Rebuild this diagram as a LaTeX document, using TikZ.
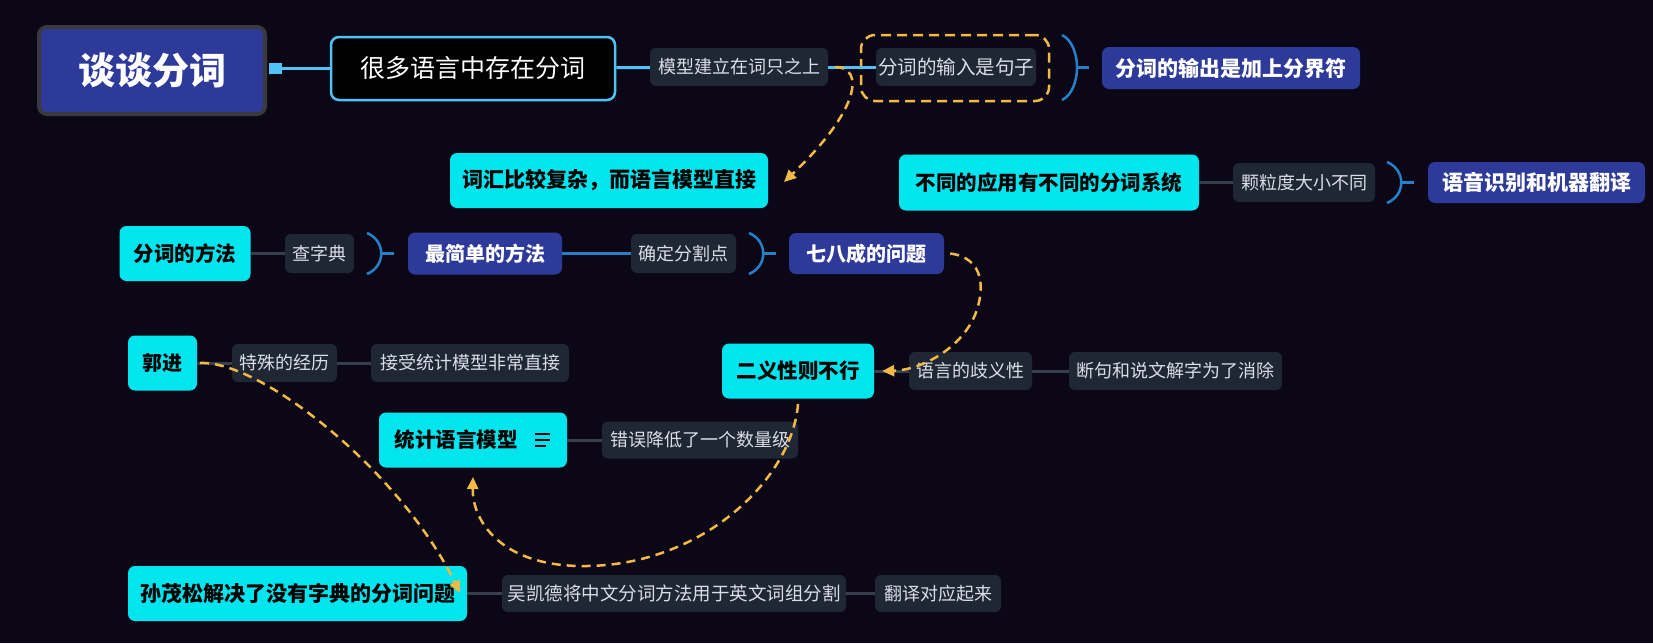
\documentclass[tikz,border=0pt]{standalone}
\usepackage{fontspec}
\setmainfont{Noto Sans CJK SC}
\usetikzlibrary{arrows.meta}
\definecolor{bg}{RGB}{12,7,22}
\definecolor{cyanbox}{RGB}{0,229,238}
\definecolor{bluebox}{RGB}{46,58,154}
\definecolor{slate}{RGB}{31,38,52}
\definecolor{labeltext}{RGB}{218,222,230}
\definecolor{orangeline}{RGB}{242,185,70}
\definecolor{skyline}{RGB}{79,195,247}
\definecolor{braceblue}{RGB}{38,128,200}
\definecolor{grayline}{RGB}{55,62,76}
\definecolor{rootborder}{RGB}{58,58,62}
\tikzset{
  box/.style={rectangle, rounded corners=7pt, inner sep=0pt, align=center},
  cyannode/.style={box, fill=cyanbox, text=black, font=\fontsize{20.5}{24}\selectfont\bfseries},
  bluenode/.style={box, fill=bluebox, text=white, font=\fontsize{20}{24}\selectfont\bfseries},
  labelnode/.style={box, rounded corners=6pt, fill=slate, text=labeltext, font=\fontsize{18}{21}\selectfont},
  graylink/.style={draw=grayline, line width=3pt},
  bluelink/.style={draw=braceblue, line width=3pt},
  skylink/.style={draw=skyline, line width=3pt},
  bracket/.style={draw=braceblue, line width=2.5pt},
  relarrow/.style={draw=orangeline, line width=2.5pt, dash pattern=on 9pt off 6pt, -{Triangle[length=12pt,width=11pt]}},
  wh/.style 2 args={minimum width=#1pt, minimum height=#2pt},
}
\begin{document}
\begin{tikzpicture}[x=1pt,y=-1pt]
\fill[bg] (0,0) rectangle (1653,643);
\useasboundingbox (0,0) rectangle (1653,643);

% root and first branch
\node[box, rounded corners=8pt, fill=bluebox, draw=rootborder, line width=4pt, wh={226}{87}, text=white, font=\fontsize{37}{44}\selectfont\bfseries] (root) at (152,70.5) {谈谈分词};
\node[fill=skyline, inner sep=0pt, wh={13}{11}] (sq) at (275,68.5) {};
\node[box, rounded corners=8pt, fill=black, draw=skyline, line width=2.5pt, wh={284}{63}, text=white, font=\fontsize{25}{30}\selectfont] (many) at (473,68.5) {很多语言中存在分词};
\node[labelnode, wh={178}{38}] (m1) at (739,67) {模型建立在词只之上};
\node[labelnode, wh={160}{38}, font=\fontsize{19.5}{23}\selectfont] (m2) at (956,67) {分词的输入是句子};
\node[draw=orangeline, dash pattern=on 10pt off 6pt, line width=2.5pt, rounded corners=14pt, inner sep=0pt, wh={188}{66}] (bnd) at (955,68) {};
\node[bluenode, wh={258}{42}, font=\fontsize{21}{26}\selectfont\bfseries] (out) at (1231,68) {分词的输出是加上分界符};

\draw[skylink] (sq) -- (many);
\draw[skylink] (many) -- (m1);
\draw[skylink] (m1) -- (m2);
\draw[bracket] (1062,35) .. controls (1082,45) and (1082,90) .. (1062,100);
\draw[bracket] (1077,67.5) -- (1089,67.5);

% vocabulary node
\node[cyannode, wh={318}{55}, font=\fontsize{21}{25}\selectfont\bfseries] (vocab) at (609,180.5) {词汇比较复杂，而语言模型直接};
\coordinate (a1) at (835,67);
\coordinate (a2) at (784,182);
\draw[relarrow] (a1) .. controls (865,67) and (860,110) .. (a2);

% applications row
\node[cyannode, wh={300}{56}] (apps) at (1049,182.5) {不同的应用有不同的分词系统};
\node[labelnode, wh={142}{39}] (gran) at (1304,182.5) {颗粒度大小不同};
\node[bluenode, wh={217}{41}, font=\fontsize{21}{26}\selectfont\bfseries] (asr) at (1536.5,182.5) {语音识别和机器翻译};
\draw[graylink] (apps) -- (gran);
\draw[bracket] (1387,162) .. controls (1406,170) and (1406,195) .. (1387,203);
\draw[bracket] (1401,182.5) -- (1414,182.5);

% method row
\node[cyannode, wh={131}{55}] (method) at (185,253.5) {分词的方法};
\node[labelnode, wh={69}{39}] (dict) at (319.5,253.5) {查字典};
\node[bluenode, wh={154}{42}] (simple) at (485,253.5) {最简单的方法};
\node[labelnode, wh={105}{39}] (split) at (683.5,253.5) {确定分割点};
\node[bluenode, wh={155}{41}] (q78) at (866.5,253.5) {七八成的问题};
\draw[graylink] (method) -- (dict);
\draw[bluelink] (simple) -- (split);
\draw[bracket] (367,233) .. controls (386,241) and (386,266) .. (367,274);
\draw[bracket] (381,253.5) -- (394,253.5);
\draw[bracket] (749,233) .. controls (768,241) and (768,266) .. (749,274);
\draw[bracket] (763,253.5) -- (776,253.5);

% ambiguity row
\node[cyannode, wh={152}{55}] (amb) at (798,371) {二义性则不行};
\node[labelnode, wh={123}{38}] (ambl) at (970.5,371) {语言的歧义性};
\node[labelnode, wh={213}{38}] (cut) at (1175.5,371) {断句和说文解字为了消除};
\draw[graylink] (amb) -- (ambl);
\draw[graylink] (ambl) -- (cut);
\draw[relarrow] ([xshift=6pt]q78.east) .. controls (985,258) and (985,290) .. (975,315) .. controls (960,350) and (920,370) .. ([xshift=8pt]amb.east);

% Guo Jin row
\node[cyannode, wh={69}{55}, font=\fontsize{20}{24}\selectfont\bfseries] (guo) at (162.5,363) {郭进};
\node[labelnode, wh={105}{38}] (spec) at (284.5,363) {特殊的经历};
\node[labelnode, wh={198}{38}] (acc) at (470,363) {接受统计模型非常直接};
\draw[graylink] (guo) -- (spec);
\draw[graylink] (spec) -- (acc);

% statistical language model
\node[cyannode, wh={188}{55}] (stat) at (473,440) {统计语言模型\hspace{34pt}};
\draw[black, line width=2pt] ([xshift=62pt,yshift=6pt]stat.center) -- ([xshift=77pt,yshift=6pt]stat.center);
\draw[black, line width=2pt] ([xshift=62pt,yshift=0pt]stat.center) -- ([xshift=77pt,yshift=0pt]stat.center);
\draw[black, line width=2pt] ([xshift=62pt,yshift=-6pt]stat.center) -- ([xshift=73pt,yshift=-6pt]stat.center);
\node[labelnode, wh={196}{37}] (err) at (700,440) {错误降低了一个数量级};
\draw[graylink] (stat) -- (err);
\coordinate (c1) at (798,404);
\coordinate (c2) at (473,477);
\draw[relarrow] (c1) .. controls (792,480) and (700,568) .. (580,566) .. controls (500,565) and (472,520) .. (c2);

% Sun Maosong row
\node[cyannode, wh={339}{55}, font=\fontsize{21}{25}\selectfont\bfseries] (sun) at (297.5,593.5) {孙茂松解决了没有字典的分词问题};
\node[labelnode, wh={344}{37}, font=\fontsize{18.5}{22}\selectfont] (wu) at (674,593.5) {吴凯德将中文分词方法用于英文词组分割};
\node[labelnode, wh={126}{37}] (trans) at (938,593.5) {翻译对应起来};
\draw[graylink] (sun) -- (wu);
\draw[graylink] (wu) -- (trans);
\coordinate (d1) at (200,363);
\coordinate (d2) at (460,593);
\draw[relarrow] (d1) .. controls (260,360) and (400,470) .. (d2);
\end{tikzpicture}
\end{document}
